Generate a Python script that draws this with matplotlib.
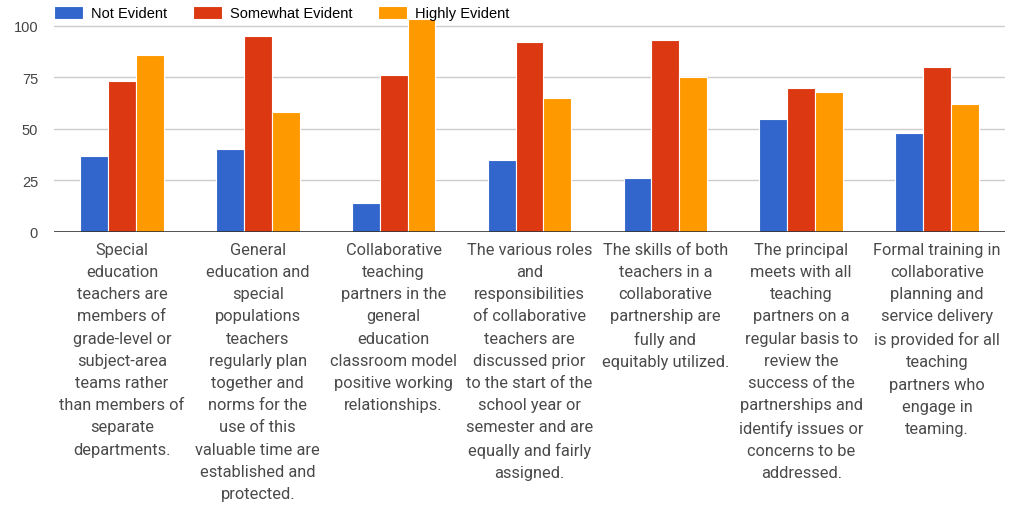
import matplotlib.pyplot as plt
import numpy as np

# Data
categories = [
    "Special\neducation\nteachers are\nmembers of\ngrade-level or\nsubject-area\nteams rather\nthan members of\nseparate\ndepartments.",
    "General\neducation and\nspecial\npopulations\nteachers\nregularly plan\ntogether and\nnorms for the\nuse of this\nvaluable time are\nestablished and\nprotected.",
    "Collaborative\nteaching\npartners in the\ngeneral\neducation\nclassroom model\npositive working\nrelationships.",
    "The various roles\nand\nresponsibilities\nof collaborative\nteachers are\ndiscussed prior\nto the start of the\nschool year or\nsemester and are\nequally and fairly\nassigned.",
    "The skills of both\nteachers in a\ncollaborative\npartnership are\nfully and\nequitably utilized.",
    "The principal\nmeets with all\nteaching\npartners on a\nregular basis to\nreview the\nsuccess of the\npartnerships and\nidentify issues or\nconcerns to be\naddressed.",
    "Formal training in\ncollaborative\nplanning and\nservice delivery\nis provided for all\nteaching\npartners who\nengage in\nteaming.",
]
not_evident = [37, 40, 14, 35, 26, 55, 48]
somewhat_evident = [73, 95, 76, 92, 93, 70, 80]
highly_evident = [86, 58, 103, 65, 75, 68, 62]
series_names = ["Not Evident", "Somewhat Evident", "Highly Evident"]
colors = ["#3366cc", "#dc3912", "#ff9900"]
y_ticks = [0, 25, 50, 75, 100]

W, H = 1011, 506
fig = plt.figure(figsize=(W / 100, H / 100), dpi=100)

# plot area in pixels: left 54, right 1005, zero line at 233, top at 18
left, right, bottom, top = 54, 1005, 233, 18
ax = fig.add_axes([left / W, (H - bottom) / H, (right - left) / W, (bottom - top) / H])

x = np.arange(len(categories))
bw = 0.205
series = [not_evident, somewhat_evident, highly_evident]
for i, (vals, name, c) in enumerate(zip(series, series_names, colors)):
    ax.bar(x + (i - 1) * bw, vals, width=bw, color=c, label=name,
           edgecolor="white", linewidth=0.8, zorder=3, clip_on=False)

ax.set_xlim(-0.5, len(categories) - 0.5)
ax.set_ylim(0, 104.2)
ax.set_yticks(y_ticks)
ax.set_yticklabels([str(t) for t in y_ticks], fontsize=10.5,
                   color="#444444", family="Liberation Sans")
for t in y_ticks[1:]:
    ax.axhline(t, color="#cccccc", linewidth=1, zorder=1)
ax.axhline(0, color="#333333", linewidth=1.2, zorder=4)

ax.set_xticks(x)
ax.set_xticklabels(categories, fontsize=11.8, color="#4a4a4a",
                   family="Roboto", linespacing=1.6, va="top")
ax.tick_params(axis="both", length=0)
ax.tick_params(axis="x", pad=7)
ax.tick_params(axis="y", pad=11.5)
for s in ax.spines.values():
    s.set_visible(False)

fig.legend(loc="center left", bbox_to_anchor=(left / W, 1 - 14 / H), ncol=3,
           frameon=False, borderpad=0, borderaxespad=0,
           handlelength=2.0, handleheight=1.0, handletextpad=0.55,
           columnspacing=1.75, prop={"family": "Liberation Sans", "size": 10.5})

plt.savefig("out.png", dpi=100)
